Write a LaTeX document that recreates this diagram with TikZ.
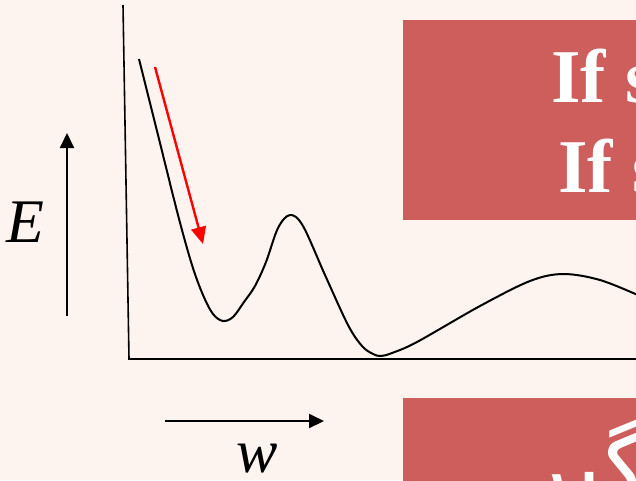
\documentclass[tikz,border=0pt]{standalone}
\usepackage{fontspec}
\setmainfont{Liberation Serif}
\newfontfamily\arabicfont[Script=Arabic]{DejaVu Sans}
\TeXXeTstate=1
\usetikzlibrary{arrows.meta}
\definecolor{bgpink}{RGB}{253,244,239}
\definecolor{boxred}{RGB}{205,94,92}
\tikzset{
  axisline/.style={line width=1.6pt, black},
  curveline/.style={line width=2pt, black, line join=round},
  labelarrow/.style={line width=2pt, -{Triangle[length=15pt,width=14pt]}},
  redarrow/.style={line width=2.4pt, red, -{Triangle[length=17pt,width=15pt]}},
  boxtext/.style={text=white, font=\fontsize{76}{90}\selectfont\bfseries, inner sep=0pt},
  mathlabel/.style={font=\fontsize{62}{70}\selectfont\itshape, inner sep=0pt}
}
\begin{document}
\begin{tikzpicture}[x=1pt,y=-1pt]
\useasboundingbox (0,0) rectangle (636,480);
\clip (0,0) rectangle (636,480);
\fill[bgpink] (0,0) rectangle (636,480);
% red boxes
\fill[boxred] (403,20) rectangle (700,220);
\fill[boxred] (403,398) rectangle (700,520);
\node[boxtext, anchor=base west] (t1) at (551,102) {If s};
\node[boxtext, anchor=base west] (t2) at (558,192) {If s};
\node[text=white, font=\arabicfont\fontsize{96}{100}\selectfont, inner sep=0pt, anchor=base east] (t3) at (650,500) {\beginR گیر\endR};
% axes
\coordinate (ytop) at (123,5);
\coordinate (origin) at (129,359);
\coordinate (xend) at (640,359);
\draw[axisline] (ytop) -- (origin) -- (xend);
% energy curve
\draw[curveline] plot[smooth, tension=0.55] coordinates {
  (139,59) (158,135) (178,215) (192,265) (203,295) (213,314) (223,321) (233,317)
  (244,302) (255,286) (266,262) (278,228) (290,215) (303,226) (325,275) (348,325)
  (362,346) (373,354) (381,356) (392,353) (417,342) (480,306) (530,281) (563,274) (600,280) (640,296)};
% red arrow
\coordinate (ra) at (155,67);
\coordinate (rb) at (203,244);
\draw[redarrow] (ra) -- (rb);
% E axis label
\coordinate (ea) at (67,316);
\coordinate (eb) at (67,133);
\draw[labelarrow] (ea) -- (eb);
\node[mathlabel] (E) at (25,222) {E};
% w axis label
\coordinate (wa) at (165,421);
\coordinate (wb) at (324,421);
\draw[labelarrow] (wa) -- (wb);
\node[mathlabel, anchor=base] (w) at (257,472) {w};
\end{tikzpicture}
\end{document}
